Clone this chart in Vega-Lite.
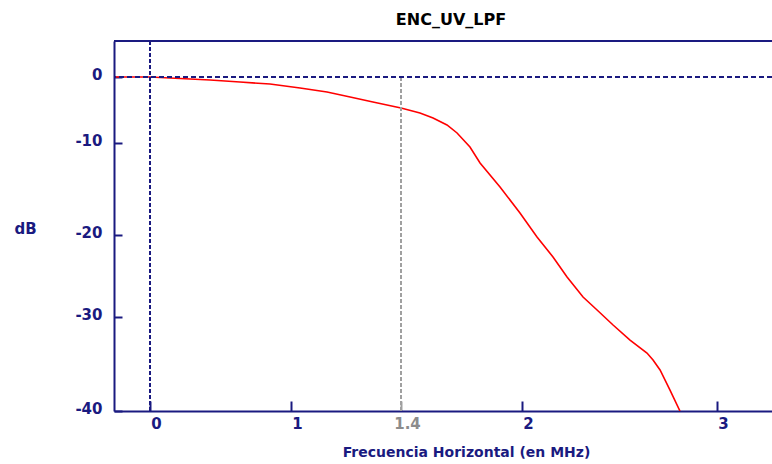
{
  "$schema": "https://vega.github.io/schema/vega-lite/v6.json",
  "autosize": {"type": "none"},
  "width": 658,
  "height": 370,
  "padding": {"left": 114, "top": 41, "right": 0, "bottom": 53},
  "background": "white",
  "view": {"stroke": null},
  "config": {"font": "DejaVu Sans"},
  "title": {
    "text": "ENC_UV_LPF",
    "anchor": "middle",
    "frame": "group",
    "dx": 8,
    "offset": 12,
    "fontSize": 16,
    "fontWeight": "bold",
    "color": "#000000",
    "font": "DejaVu Sans"
  },
  "datasets": {
    "curve": [
      {"freq": -0.255, "db": 0},
      {"freq": 0, "db": 0},
      {"freq": 0.213, "db": -0.23},
      {"freq": 0.426, "db": -0.45},
      {"freq": 0.638, "db": -0.76},
      {"freq": 0.851, "db": -1.06},
      {"freq": 1.033, "db": -1.67},
      {"freq": 1.131, "db": -2.27},
      {"freq": 1.215, "db": -3.03},
      {"freq": 1.298, "db": -3.79},
      {"freq": 1.4, "db": -4.7},
      {"freq": 1.494, "db": -5.45},
      {"freq": 1.559, "db": -6.21},
      {"freq": 1.628, "db": -7.27},
      {"freq": 1.678, "db": -8.48},
      {"freq": 1.742, "db": -10.43},
      {"freq": 1.792, "db": -12.17},
      {"freq": 1.891, "db": -14.78},
      {"freq": 1.99, "db": -17.61},
      {"freq": 2.077, "db": -20.24},
      {"freq": 2.159, "db": -22.68},
      {"freq": 2.231, "db": -25.12},
      {"freq": 2.313, "db": -27.56},
      {"freq": 2.385, "db": -29.15},
      {"freq": 2.467, "db": -30.85},
      {"freq": 2.554, "db": -32.45},
      {"freq": 2.641, "db": -33.83},
      {"freq": 2.672, "db": -34.57},
      {"freq": 2.708, "db": -35.64},
      {"freq": 2.759, "db": -37.77},
      {"freq": 2.81, "db": -40}
    ],
    "topBorder": [{"db": 5.45}],
    "zeroLine": [{"db": 0}],
    "zeroFreq": [{"freq": 0}],
    "cutoff": [{"freq": 1.4, "db": 0, "dbEnd": -40}]
  },
  "layer": [
    {
      "data": {"name": "curve"},
      "mark": {"type": "line", "color": "#ff0000", "strokeWidth": 1.6, "clip": true},
      "encoding": {
        "x": {
          "field": "freq",
          "type": "quantitative",
          "scale": {"domain": [-0.255, 0, 1, 1.4, 2, 3, 3.282], "range": [0, 36, 177, 287, 408, 603, 658], "nice": false, "zero": false},
          "axis": {
            "values": [0, 1, 1.4, 2, 3],
            "labelExpr": "'' + datum.value",
            "title": "Frecuencia Horizontal (en MHz)",
            "titleFont": "DejaVu Sans",
            "titleFontSize": 14,
            "titleFontWeight": "bold",
            "titleColor": "#1a1a80",
            "titleX": 352,
            "titleY": 41,
            "titleAlign": "center",
            "titleBaseline": "middle",
            "grid": false,
            "domainColor": "#1a1a80",
            "domainWidth": 2,
            "tickColor": {"condition": {"test": "datum.value === 1.4", "value": "#a0a0a0"}, "value": "#1a1a80"},
            "tickWidth": 2,
            "tickSize": -10,
            "labelPadding": 15,
            "labelOffset": 6,
            "labelFont": "DejaVu Sans",
            "labelFontSize": 15,
            "labelFontWeight": "bold",
            "labelColor": {"condition": {"test": "datum.value === 1.4", "value": "#8c8c8c"}, "value": "#1a1a80"},
            "labelBaseline": "top"
          }
        },
        "y": {
          "field": "db",
          "type": "quantitative",
          "scale": {"domain": [-40, -30, -20, -10, 0, 5.45], "range": [370, 276, 194, 102, 36, 0], "nice": false, "zero": false},
          "axis": {
            "values": [0, -10, -20, -30, -40],
            "labelExpr": "'' + datum.value",
            "title": "dB",
            "titleAngle": 0,
            "titleFont": "DejaVu Sans",
            "titleFontSize": 15,
            "titleFontWeight": "bold",
            "titleColor": "#1a1a80",
            "titleX": -89,
            "titleY": 187,
            "titleAlign": "center",
            "titleBaseline": "middle",
            "grid": false,
            "domainColor": "#1a1a80",
            "domainWidth": 2,
            "tickColor": "#1a1a80",
            "tickWidth": 2,
            "tickSize": -8,
            "labelPadding": 20,
            "labelOffset": -3,
            "labelFont": "DejaVu Sans",
            "labelFontSize": 15,
            "labelFontWeight": "bold",
            "labelColor": "#1a1a80"
          }
        }
      }
    },
    {
      "data": {"name": "topBorder"},
      "mark": {"type": "rule", "color": "#1a1a80", "strokeWidth": 2},
      "encoding": {"y": {"field": "db", "type": "quantitative"}}
    },
    {
      "data": {"name": "cutoff"},
      "mark": {"type": "rule", "color": "#a0a0a0", "strokeWidth": 2, "strokeDash": [4, 2]},
      "encoding": {
        "x": {"field": "freq", "type": "quantitative"},
        "y": {"field": "db", "type": "quantitative"},
        "y2": {"field": "dbEnd"}
      }
    },
    {
      "data": {"name": "zeroLine"},
      "mark": {"type": "rule", "color": "#1a1a80", "strokeWidth": 2, "strokeDash": [5, 3]},
      "encoding": {"y": {"field": "db", "type": "quantitative"}}
    },
    {
      "data": {"name": "zeroFreq"},
      "mark": {"type": "rule", "color": "#1a1a80", "strokeWidth": 2, "strokeDash": [4, 2]},
      "encoding": {"x": {"field": "freq", "type": "quantitative"}}
    }
  ]
}
